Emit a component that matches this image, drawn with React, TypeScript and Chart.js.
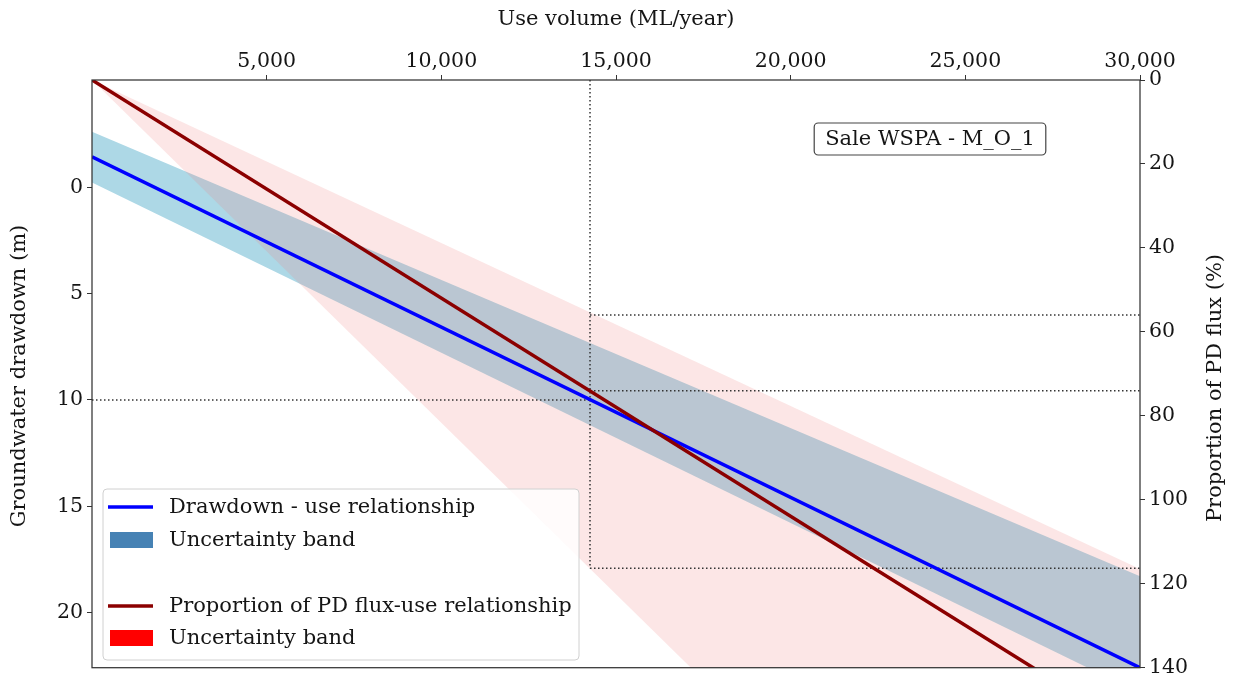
import React, { useEffect, useRef } from 'react';
import { Chart, registerables } from 'chart.js';

Chart.register(...registerables);

// ---- data ----
const useVolume = [0, 30000];
const drawdownLine = [-1.45, 22.6];
const drawdownBandUpper = [-2.62, 18.3];
const drawdownBandLower = [-0.23, 23.8];
const fluxLine = [0, 155.9];
const fluxBandLow = [0, 116.5];
const fluxBandHigh = [0, 245];
const refUse = 14256;
const refDrawdown = 10;
const refFlux = [56, 74, 116.3];

const xTicks = [5000, 10000, 15000, 20000, 25000, 30000];
const yLeftTicks = [0, 5, 10, 15, 20];
const yRightTicks = [0, 20, 40, 60, 80, 100, 120, 140];

const xTitle = 'Use volume (ML/year)';
const yTitle = 'Groundwater drawdown (m)';
const y2Title = 'Proportion of PD flux (%)';
const annotationText = 'Sale WSPA - M_O_1';
const legendLabels = [
  'Drawdown - use relationship',
  'Uncertainty band',
  '',
  'Proportion of PD flux-use relationship',
  'Uncertainty band',
];

const FONT = '"DejaVu Serif", serif';
const TXT = '#151515';

const overlay = {
  id: 'overlay',
  afterDraw(chart: any) {
    const c = chart.ctx as CanvasRenderingContext2D;
    const a = chart.chartArea;
    c.save();
    // frame
    c.strokeStyle = '#333';
    c.lineWidth = 1.25;
    c.strokeRect(a.left, a.top, a.right - a.left, a.bottom - a.top);

    // titles
    c.fillStyle = TXT;
    c.font = `21px ${FONT}`;
    c.textAlign = 'center';
    c.textBaseline = 'middle';
    c.fillText(xTitle, (a.left + a.right) / 2, 20);
    c.save();
    c.translate(20, 376);
    c.rotate(-Math.PI / 2);
    c.fillText(yTitle, 0, 0);
    c.restore();
    c.save();
    c.translate(1216, 388);
    c.rotate(-Math.PI / 2);
    c.fillText(y2Title, 0, 0);
    c.restore();

    // annotation box
    c.font = `21px ${FONT}`;
    const tw = c.measureText(annotationText).width;
    const cx = 930, cy = 139;
    c.beginPath();
    (c as any).roundRect(cx - tw / 2 - 11, cy - 16, tw + 22, 32, 4);
    c.fillStyle = '#fff';
    c.fill();
    c.strokeStyle = '#444';
    c.lineWidth = 1.2;
    c.stroke();
    c.fillStyle = TXT;
    c.fillText(annotationText, cx, cy + 1);

    // legend
    c.beginPath();
    (c as any).roundRect(103, 489, 476, 171, 4);
    c.fillStyle = 'rgba(255,255,255,0.85)';
    c.fill();
    c.strokeStyle = '#d0d0d0';
    c.lineWidth = 1;
    c.stroke();
    const rowsY = [507, 540, 573, 606, 638];
    const kinds = ['line', 'patch', 'none', 'line', 'patch'];
    const colors = ['blue', 'steelblue', '', 'darkred', 'red'];
    c.textAlign = 'left';
    for (let i = 0; i < legendLabels.length; i++) {
      const y = rowsY[i];
      if (kinds[i] === 'line') {
        c.strokeStyle = colors[i];
        c.lineWidth = 3.5;
        c.beginPath();
        c.moveTo(108, y);
        c.lineTo(153, y);
        c.stroke();
      } else if (kinds[i] === 'patch') {
        c.fillStyle = colors[i];
        c.fillRect(110, y - 8, 43, 16);
      }
      if (legendLabels[i]) {
        c.fillStyle = TXT;
        c.fillText(legendLabels[i], 169, y + 1);
      }
    }
    c.restore();
  },
};

export default function App() {
  const ref = useRef<HTMLCanvasElement>(null);
  useEffect(() => {
    document.body.style.margin = '0';
    const pts = (ys: number[]) => useVolume.map((x, i) => ({ x, y: ys[i] }));
    const dotted = {
      borderColor: '#333',
      borderWidth: 1.5,
      borderDash: [1.5, 2.5],
      pointRadius: 0,
      fill: false,
      clip: 0,
    };
    const tickFont = { family: FONT, size: 20.5 };
    const chart = new Chart(ref.current as HTMLCanvasElement, {
      type: 'line',
      data: {
        datasets: [
          {
            data: pts(drawdownBandLower),
            yAxisID: 'y',
            borderColor: 'rgba(0,0,0,0)',
            borderWidth: 0,
            pointRadius: 0,
            fill: false,
            order: 10,
            clip: 0,
          },
          {
            data: pts(drawdownBandUpper),
            yAxisID: 'y',
            borderColor: 'rgba(0,0,0,0)',
            borderWidth: 0,
            pointRadius: 0,
            fill: 0,
            backgroundColor: 'rgb(173,216,230)',
            order: 9,
            clip: 0,
          },
          {
            data: pts(fluxBandHigh),
            yAxisID: 'y2',
            borderColor: 'rgba(0,0,0,0)',
            borderWidth: 0,
            pointRadius: 0,
            fill: false,
            order: 8,
            clip: 0,
          },
          {
            data: pts(fluxBandLow),
            yAxisID: 'y2',
            borderColor: 'rgba(0,0,0,0)',
            borderWidth: 0,
            pointRadius: 0,
            fill: 2,
            backgroundColor: 'rgba(240,128,128,0.2)',
            order: 7,
            clip: 0,
          },
          {
            ...dotted,
            data: [
              { x: 0, y: refDrawdown },
              { x: refUse, y: refDrawdown },
            ],
            yAxisID: 'y',
            order: 6,
          },
          {
            ...dotted,
            data: [
              { x: refUse, y: 0 },
              { x: refUse, y: refFlux[2] },
            ],
            yAxisID: 'y2',
            order: 6,
          },
          ...refFlux.map((f) => ({
            ...dotted,
            data: [
              { x: refUse, y: f },
              { x: 30000, y: f },
            ],
            yAxisID: 'y2',
            order: 6,
          })),
          {
            data: pts(drawdownLine),
            yAxisID: 'y',
            borderColor: 'blue',
            borderWidth: 3.5,
            pointRadius: 0,
            fill: false,
            order: 2,
            clip: 0,
          },
          {
            data: pts(fluxLine),
            yAxisID: 'y2',
            borderColor: 'darkred',
            borderWidth: 3.5,
            pointRadius: 0,
            fill: false,
            order: 1,
            clip: 0,
          },
        ] as any,
      },
      options: {
        responsive: false,
        animation: false,
        devicePixelRatio: 1,
        layout: { padding: { left: 0, right: 0, top: 0, bottom: 14 } },
        plugins: {
          legend: { display: false },
          tooltip: { enabled: false },
        },
        scales: {
          x: {
            type: 'linear',
            position: 'top',
            min: 0,
            max: 30000,
            afterBuildTicks: (s: any) => {
              s.ticks = xTicks.map((v) => ({ value: v }));
            },
            afterFit: (s: any) => {
              s.height = 80;
            },
            border: { display: false },
            grid: { drawOnChartArea: false, drawTicks: true, tickLength: 5, color: '#333' },
            ticks: {
              font: tickFont,
              color: TXT,
              padding: 1,
              maxRotation: 0,
              autoSkip: false,
              callback: (v: any) => Number(v).toLocaleString('en-US'),
            },
          },
          y: {
            type: 'linear',
            position: 'left',
            reverse: true,
            min: -5.06,
            max: 22.6,
            afterBuildTicks: (s: any) => {
              s.ticks = yLeftTicks.map((v) => ({ value: v }));
            },
            afterFit: (s: any) => {
              s.width = 92;
            },
            border: { display: false },
            grid: { drawOnChartArea: false, drawTicks: true, tickLength: 5, color: '#333' },
            ticks: {
              font: tickFont,
              color: TXT,
              padding: 4,
              autoSkip: false,
              callback: (v: any) => String(v),
            },
          },
          y2: {
            type: 'linear',
            position: 'right',
            reverse: true,
            min: 0,
            max: 140,
            afterBuildTicks: (s: any) => {
              s.ticks = yRightTicks.map((v) => ({ value: v }));
            },
            afterFit: (s: any) => {
              s.width = 98;
            },
            border: { display: false },
            grid: { drawOnChartArea: false, drawTicks: true, tickLength: 5, color: '#333' },
            ticks: {
              font: tickFont,
              color: TXT,
              padding: 4,
              autoSkip: false,
              callback: (v: any) => String(v),
            },
          },
        },
      } as any,
      plugins: [overlay],
    });
    return () => chart.destroy();
  }, []);
  return (
    <canvas
      ref={ref}
      width={1238}
      height={684}
      style={{ display: 'block', width: 1238, height: 684 }}
    />
  );
}
